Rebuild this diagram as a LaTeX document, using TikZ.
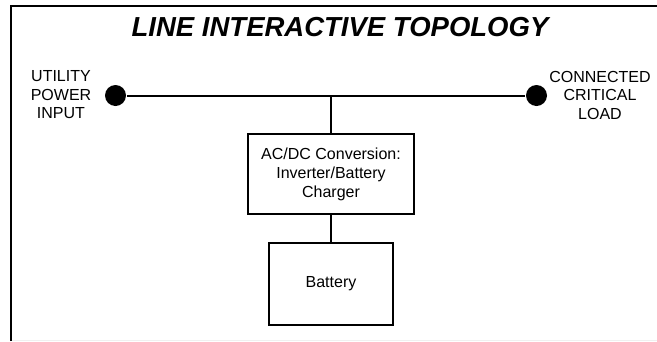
\documentclass[tikz,border=0pt]{standalone}
\usepackage{fontspec}
\setmainfont{Liberation Sans}
\begin{document}
\begin{tikzpicture}[x=1pt,y=-1pt,line width=2pt,
  lbl/.style={font=\fontsize{16}{18.5}\selectfont, align=center, inner sep=0pt},
  blk/.style={draw, line width=2pt, inner sep=0pt, align=center, font=\fontsize{16}{19}\selectfont},
  dot/.style={circle, fill=black, draw=none, minimum size=21pt, inner sep=0pt},
  frame/.style={line width=1.5pt},
  title/.style={font=\fontsize{27.5}{32}\selectfont\bfseries\itshape, inner sep=0pt, anchor=base}]
\useasboundingbox (0,0) rectangle (657,341);
\draw[frame] (11,341) -- (11,6) -- (657,6);
\draw[gray!12, line width=1pt] (12,340) -- (657,340);
\node[title] (ttl) at (340,36.5) {LINE INTERACTIVE TOPOLOGY};
\node[dot] (src) at (115.5,95.5) {};
\node[dot] (load) at (536.5,95.5) {};
\coordinate (j) at (331,95.5);
\draw (src) -- (load);
\node[lbl] (inlbl) at (61,95) {UTILITY\\POWER\\INPUT};
\node[lbl] (outlbl) at (600,95) {CONNECTED\\CRITICAL\\LOAD};
\node[blk, minimum width=166pt, minimum height=80pt] (conv) at (331,174) {AC/DC Conversion:\\Inverter/Battery\\Charger};
\node[blk, minimum width=124pt, minimum height=82pt] (bat) at (331,284) {Battery};
\draw (j) -- (conv.north);
\draw (conv.south) -- (bat.north);
\end{tikzpicture}
\end{document}
